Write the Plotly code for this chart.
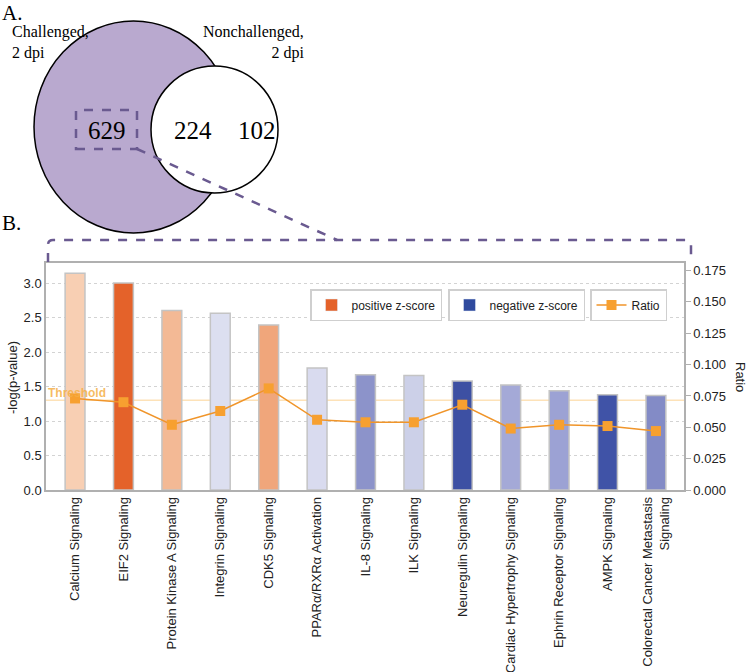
import plotly.graph_objects as go

# ---------------- data ----------------
categories = [
    "Calcium Signaling", "EIF2 Signaling", "Protein Kinase A Signaling",
    "Integrin Signaling", "CDK5 Signaling", "PPARα/RXRα Activation",
    "IL-8 Signaling", "ILK Signaling", "Neuregulin Signaling",
    "Cardiac Hypertrophy Signaling", "Ephrin Receptor Signaling",
    "AMPK Signaling", "Colorectal Cancer Metastasis<br>Signaling",
]
neg_log_p = [3.14, 3.00, 2.60, 2.56, 2.39, 1.77, 1.67, 1.66, 1.58, 1.52, 1.44, 1.38, 1.37]
ratio = [0.073, 0.070, 0.052, 0.063, 0.081, 0.056, 0.054, 0.054, 0.068, 0.049, 0.052, 0.051, 0.047]
bar_colors = ["#f8cfb3", "#e4622a", "#f3b995", "#dcdff0", "#f0a67b", "#d9dbef",
              "#8c93ca", "#ccd0e8", "#3d50a3", "#a4a9d7", "#9ca2d4", "#4053a7", "#838bc6"]
threshold = 1.3
venn_counts = ["629", "224", "102"]
venn_sets = ["Challenged,<br>2 dpi", "Nonchallenged,<br>2 dpi"]

W, H = 750, 672
ML, MR, MT, MB = 46, 66, 263, 182
PW = W - ML - MR
PH = H - MT - MB


def px(x):
    return (x - ML) / PW


def py(y):
    return (H - MB - y) / PH


FONT = "Liberation Sans, Arial, sans-serif"
SERIF = "Liberation Serif, Times New Roman, serif"

fig = go.Figure()
fig.add_trace(go.Bar(
    x=categories, y=neg_log_p, marker=dict(color=bar_colors, line=dict(color="#c4c4c4", width=1.5)),
    showlegend=False, name="-log(p-value)",
))
# legend entries
fig.add_trace(go.Bar(x=[None], y=[None], name="positive z-score", marker_color="#e4622a",
                     legend="legend"))
fig.add_trace(go.Bar(x=[None], y=[None], name="negative z-score", marker_color="#2f4a9e",
                     legend="legend2"))
fig.add_trace(go.Scatter(
    x=categories, y=ratio, yaxis="y2", mode="lines+markers", name="Ratio",
    line=dict(color="#f0952a", width=1.5),
    marker=dict(symbol="square", size=10, color="#f7a030"),
    legend="legend3",
))

shapes = []
# threshold line
shapes.append(dict(type="line", xref="paper", x0=0, x1=1, yref="y", y0=threshold, y1=threshold,
                   line=dict(color="#fde2b8", width=1.5), layer="between"))

# Venn diagram
shapes.append(dict(type="circle", xref="paper", yref="paper",
                   x0=px(34), x1=px(233), y0=py(233), y1=py(21),
                   fillcolor="#b9a9cf", line=dict(color="black", width=1.5), layer="above"))
shapes.append(dict(type="circle", xref="paper", yref="paper",
                   x0=px(151), x1=px(278), y0=py(193), y1=py(66),
                   fillcolor="white", line=dict(color="black", width=1.5), layer="above"))
dash_col = "#6a5a90"
shapes.append(dict(type="rect", xref="paper", yref="paper",
                   x0=px(76), x1=px(137), y0=py(149), y1=py(110),
                   line=dict(color=dash_col, width=2.5, dash="dash"), layer="above"))
shapes.append(dict(type="line", xref="paper", yref="paper",
                   x0=px(137), y0=py(149), x1=px(337), y1=py(240),
                   line=dict(color=dash_col, width=2.5, dash="dash"), layer="above"))


def pt(x, y):
    return f"{px(x):.5f},{py(y):.5f}"


brace = (f"M {pt(48, 262)} L {pt(48, 245)} Q {pt(48, 240)} {pt(53, 240)} "
         f"L {pt(686, 240)} Q {pt(691, 240)} {pt(691, 245)} L {pt(691, 262)}")
shapes.append(dict(type="path", xref="paper", yref="paper", path=brace,
                   line=dict(color=dash_col, width=2.5, dash="dash"), layer="above"))


def ann(text, x, y, xanchor="center", yanchor="middle", size=16, family=SERIF, **kw):
    return dict(text=text, x=px(x), y=py(y), xref="paper", yref="paper", xanchor=xanchor,
                yanchor=yanchor, showarrow=False, font=dict(family=family, size=size,
                                                            color=kw.pop("color", "black")), **kw)


annotations = [
    ann("A.", 0, -1, "left", "top", 21),
    ann("B.", 0, 209, "left", "top", 21),
    ann(venn_sets[0], 10, 21, "left", "top", 16, align="left"),
    ann(venn_sets[1], 306, 21, "right", "top", 16, align="right"),
    ann(venn_counts[0], 107, 131, size=25),
    ann(venn_counts[1], 193, 131, size=25),
    ann(venn_counts[2], 257, 131, size=25),
    dict(text="<b>Threshold</b>", x=0, y=threshold, xref="paper", yref="y", xanchor="left",
         yanchor="bottom", yshift=-2, showarrow=False,
         font=dict(family=FONT, size=12, color="rgba(245,175,70,0.85)")),
    ann("-log(p-value)", 12, 378, family=FONT, size=13, color="#222", textangle=-90),
    ann("Ratio", 741, 377, family=FONT, size=13, color="#222", textangle=90),
]

legend_common = dict(orientation="h", xanchor="left", yanchor="top", bordercolor="#cfcfcf",
                     borderwidth=1.5, bgcolor="white", itemwidth=30,
                     font=dict(family=FONT, size=12, color="#222"))

fig.update_layout(
    width=W, height=H,
    margin=dict(l=ML, r=MR, t=MT, b=MB, autoexpand=False),
    paper_bgcolor="white", plot_bgcolor="white",
    bargap=0.59,
    font=dict(family=FONT, size=13, color="#222"),
    xaxis=dict(range=[-0.6, 12.58], tickangle=-90, showline=True, mirror=True, automargin=False,
               linecolor="#b0b0b0", linewidth=1.5, ticks="", showgrid=False,
               tickfont=dict(family=FONT, size=13, color="#222")),
    yaxis=dict(range=[0, 3.29], dtick=0.5, tickformat=".1f", showline=True, linecolor="#b0b0b0",
               linewidth=1.5, showgrid=True, gridcolor="#d3d3d3", griddash="dot", automargin=False,
               zeroline=False, ticks="", tickfont=dict(family=FONT, size=13, color="#222")),
    yaxis2=dict(range=[0, 0.181], dtick=0.025, tickformat=".3f", overlaying="y", side="right",
                showline=True, linecolor="#b0b0b0", linewidth=1.5, showgrid=False, automargin=False,
                zeroline=False, ticks="outside", ticklen=5, tickcolor="#b0b0b0",
                tickfont=dict(family=FONT, size=13, color="#222")),
    legend=dict(x=px(310), y=py(289), **legend_common),
    legend2=dict(x=px(448), y=py(289), **legend_common),
    legend3=dict(x=px(590), y=py(289), **legend_common),
    shapes=shapes,
    annotations=annotations,
)

fig.write_html("out.html", config={"displayModeBar": False},
               post_script="document.body.style.margin='0';")
